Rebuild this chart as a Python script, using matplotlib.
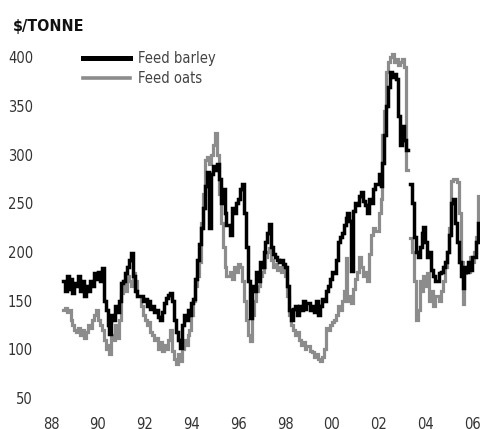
import numpy as np
import pandas as pd
import matplotlib
matplotlib.use("Agg")
import matplotlib.pyplot as plt
from matplotlib.lines import Line2D
from datetime import datetime

plt.rcParams['font.family'] = ['DejaVu Sans']
plt.rcParams['font.stretch'] = 'condensed'

start_month = "1988-07-01"

# monthly prices, $/tonne
feed_barley = [
    170, 160, 175, 162, 172, 158, 168, 165, 175, 160, 170, 155, 165, 160, 170, 165,
    178, 172, 180, 170, 184, 150, 140, 125, 116, 135, 130, 145, 138, 150, 168, 170,
    178, 185, 192, 199, 175, 160, 155, 155, 155, 150, 152, 145, 150, 142, 145, 138,
    140, 133, 130, 138, 148, 153, 156, 158, 150, 130, 118, 110, 101, 125, 135, 130,
    140, 135, 148, 152, 172, 192, 208, 225, 245, 268, 282, 225, 280, 288, 284, 290,
    275, 250, 265, 240, 228, 228, 218, 245, 240, 250, 255, 265, 270, 240, 205, 170,
    132, 165, 160, 180, 170, 190, 185, 200, 210, 220, 229, 205, 198, 195, 192, 190,
    192, 188, 185, 165, 140, 130, 142, 145, 135, 145, 140, 150, 142, 148, 148, 140,
    145, 138, 150, 135, 145, 152, 150, 160, 165, 172, 180, 178, 192, 210, 215, 220,
    228, 235, 240, 232, 181, 242, 250, 248, 258, 262, 252, 248, 240, 255, 250, 265,
    270, 270, 280, 268, 292, 320, 350, 370, 385, 380, 383, 378, 340, 310, 330, 315,
    305, np.nan, 270, 250, 215, 200, 195, 205, 220, 226, 210, 195, 200, 182, 175, 170,
    170, 178, 180, 185, 190, 200, 218, 250, 255, 230, 210, 190, 175, 163, 185, 180,
    190, 182, 195, 195, 210, 230,
]

feed_oats = [
    140, 143, 138, 140, 130, 125, 120, 118, 122, 115, 120, 112, 118, 125, 122, 130,
    135, 140, 130, 125, 120, 110, 100, 105, 95, 115, 110, 125, 112, 130, 158, 168,
    160, 175, 170, 165, 178, 170, 155, 155, 145, 135, 130, 125, 128, 118, 115, 110,
    112, 100, 108, 98, 105, 100, 110, 120, 98, 90, 85, 95, 88, 100, 110, 105,
    115, 120, 135, 150, 165, 175, 190, 230, 260, 295, 298, 290, 300, 310, 322, 300,
    260, 230, 205, 185, 175, 175, 180, 172, 185, 180, 188, 185, 170, 150, 130, 115,
    109, 135, 150, 160, 165, 175, 180, 185, 195, 200, 204, 192, 185, 188, 182, 185,
    180, 185, 175, 155, 135, 125, 120, 115, 118, 110, 105, 108, 100, 103, 103, 98,
    97, 92, 95, 90, 88, 92, 100, 122, 120, 125, 128, 130, 135, 145, 140, 150,
    160, 194, 150, 155, 148, 162, 172, 180, 195, 185, 175, 180, 170, 198, 218, 225,
    222, 222, 240, 255, 320, 345, 385, 395, 400, 404, 395, 398, 392, 395, 398, 390,
    284, np.nan, 214, 200, 170, 130, 140, 170, 160, 175, 165, 178, 150, 160, 145, 155,
    155, 150, 160, 170, 185, 200, 225, 273, 275, 275, 272, 240, 190, 147, 178, 185,
    180, 195, 190, 200, 215, 258,
]

tick_years = list(range(1988, 2007, 2))
tick_labels = ["88", "90", "92", "94", "96", "98", "00", "02", "04", "06"]
y_ticks = [50, 100, 150, 200, 250, 300, 350, 400]

months = pd.date_range(start_month, periods=len(feed_barley), freq="MS")

fig = plt.figure(figsize=(4.8, 4.29), dpi=100)
ax = fig.add_axes([40 / 480, 19 / 429, 440 / 480, 365 / 429])

ax.plot(months, feed_oats, color="#8c8c8c", lw=2.3, drawstyle="steps-post",
        solid_joinstyle="miter")
ax.plot(months, feed_barley, color="#000000", lw=2.5, drawstyle="steps-post",
        solid_joinstyle="miter")

ax.set_xlim(datetime(1987, 7, 13), datetime(2006, 5, 1))
ax.set_ylim(37.7, 412.8)
ax.set_xticks([datetime(y, 1, 1) for y in tick_years])
ax.set_xticklabels(tick_labels)
ax.set_yticks(y_ticks)

for s in ax.spines.values():
    s.set_visible(False)
ax.tick_params(length=0, labelsize=10.5, colors="#333333")
ax.tick_params(axis="y", pad=5)
ax.tick_params(axis="x", pad=5)

fig.text(13 / 480, 1 - 31 / 429, r"\$/TONNE", fontsize=11.5, fontweight="bold",
         color="#111111", va="baseline", ha="left")

handles = [Line2D([], [], color="#000000", lw=3.6),
           Line2D([], [], color="#8c8c8c", lw=2.6)]
ax.legend(handles, ["Feed barley", "Feed oats"], loc="upper left",
          bbox_to_anchor=(83 / 480, 1 - 51 / 429), bbox_transform=fig.transFigure,
          frameon=False, fontsize=10.5, handlelength=3.2, handletextpad=0.6,
          labelspacing=0.35, borderpad=0, borderaxespad=0, labelcolor="#444444")

fig.savefig("out.png", dpi=100)
